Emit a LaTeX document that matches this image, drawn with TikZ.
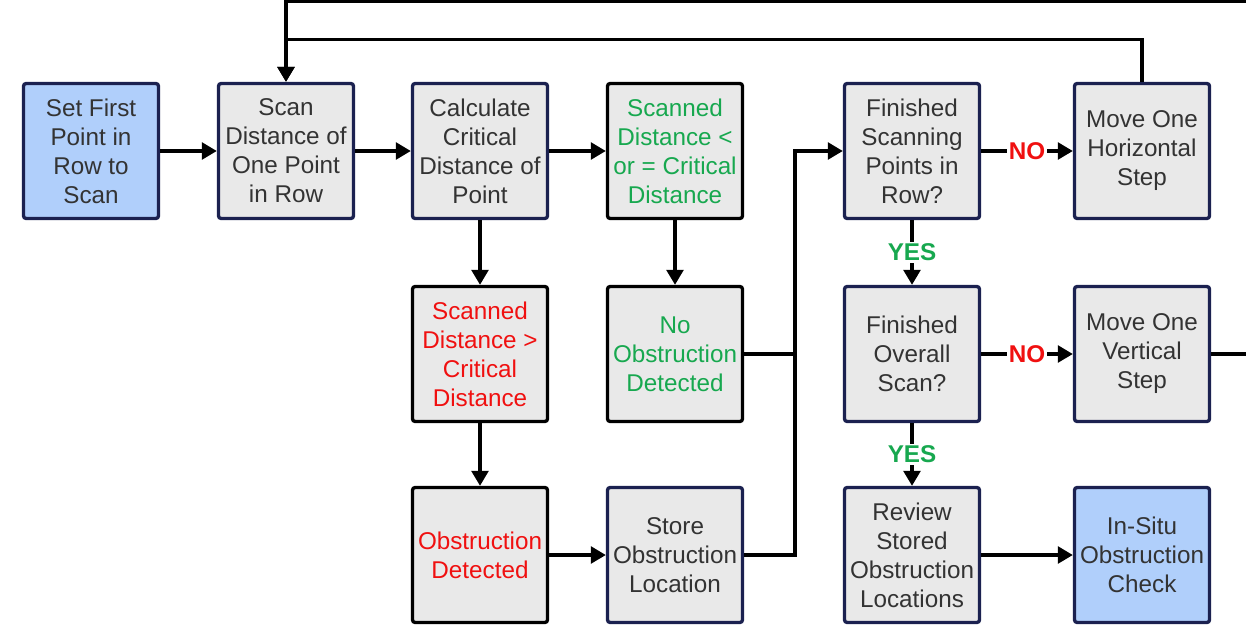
\documentclass[tikz,border=0pt]{standalone}
\usepackage{fontspec}
\setmainfont{Liberation Sans}
\usepackage{xcolor}
\usetikzlibrary{arrows.meta, positioning, calc}

\definecolor{boxgray}{HTML}{E9E9E9}
\definecolor{boxblue}{HTML}{B0CFFB}
\definecolor{boxedge}{HTML}{1B2150}
\definecolor{textgray}{HTML}{333333}
\definecolor{okgreen}{HTML}{17A84F}
\definecolor{badred}{HTML}{F01010}

\tikzset{
    stepbox/.style={
            draw=boxedge,
            fill=boxgray,
            line width=1.9pt,
            rounded corners=1.5pt,
            minimum width=2.7cm,
            minimum height=2.7cm,
            inner sep=1pt,
            align=center,
            text=textgray,
            font=\fontsize{13.8}{16.5}\selectfont
        },
    startbox/.style={stepbox, fill=boxblue},
    testbox/.style={stepbox, draw=black},
    flow/.style={-{Triangle[length=8.5pt, width=9.5pt]}, line width=1.9pt},
    wire/.style={line width=1.9pt},
    answer/.style={midway, fill=white, inner sep=1pt, font=\fontsize{13.8}{16.5}\selectfont\bfseries}
}

\begin{document}
\begin{tikzpicture}
    \useasboundingbox (0,0) rectangle (24.92,-12.5);

    % top row
    \node[startbox] (setfirst) at (1.82,-3.02) {Set First\\Point in\\Row to\\Scan};
    \node[stepbox] (scan) at (5.72,-3.02) {Scan\\Distance of\\One Point\\in Row};
    \node[stepbox] (calc) at (9.60,-3.02) {Calculate\\Critical\\Distance of\\Point};
    \node[testbox, text=okgreen] (below) at (13.50,-3.02) {Scanned\\Distance <\\or = Critical\\Distance};
    \node[stepbox] (finrow) at (18.24,-3.02) {Finished\\Scanning\\Points in\\Row?};
    \node[stepbox] (horiz) at (22.84,-3.02) {Move One\\Horizontal\\Step};

    % middle row
    \node[testbox, text=badred] (above) at (9.60,-7.08) {Scanned\\Distance >\\Critical\\Distance};
    \node[testbox, text=okgreen] (noobs) at (13.50,-7.08) {No\\Obstruction\\Detected};
    \node[stepbox] (finall) at (18.24,-7.08) {Finished\\Overall\\Scan?};
    \node[stepbox] (vert) at (22.84,-7.08) {Move One\\Vertical\\Step};

    % bottom row
    \node[testbox, text=badred] (obs) at (9.60,-11.10) {Obstruction\\Detected};
    \node[stepbox] (store) at (13.50,-11.10) {Store\\Obstruction\\Location};
    \node[stepbox] (review) at (18.24,-11.10) {Review\\Stored\\Obstruction\\Locations};
    \node[startbox] (insitu) at (22.84,-11.10) {In-Situ\\Obstruction\\Check};

    \coordinate (merge) at (15.90,-3.02);
    \coordinate (outer) at (25.20,-0.02);

    \draw[flow] (setfirst) -- (scan);
    \draw[flow] (scan) -- (calc);
    \draw[flow] (calc) -- (below);
    \draw[flow] (calc) -- (above);
    \draw[flow] (below) -- (noobs);
    \draw[flow] (above) -- (obs);
    \draw[flow] (obs) -- (store);
    \draw[wire] (noobs.east) -- (noobs.east -| merge);
    \draw[flow] (store.east) -| (merge) -- (finrow.west);
    \draw[flow] (finrow) -- node[answer, text=badred] {NO} (horiz);
    \draw[flow] (finrow) -- node[answer, text=okgreen] {YES} (finall);
    \draw[flow] (finall) -- node[answer, text=badred] {NO} (vert);
    \draw[flow] (finall) -- node[answer, text=okgreen] {YES} (review);
    \draw[flow] (review) -- (insitu);

    % loops back to the scan step
    \draw[flow] (horiz.north) -- ++(0,0.84) -| (scan.north);
    \draw[flow] (vert.east) -| (outer) -| (scan.north);
\end{tikzpicture}
\end{document}
